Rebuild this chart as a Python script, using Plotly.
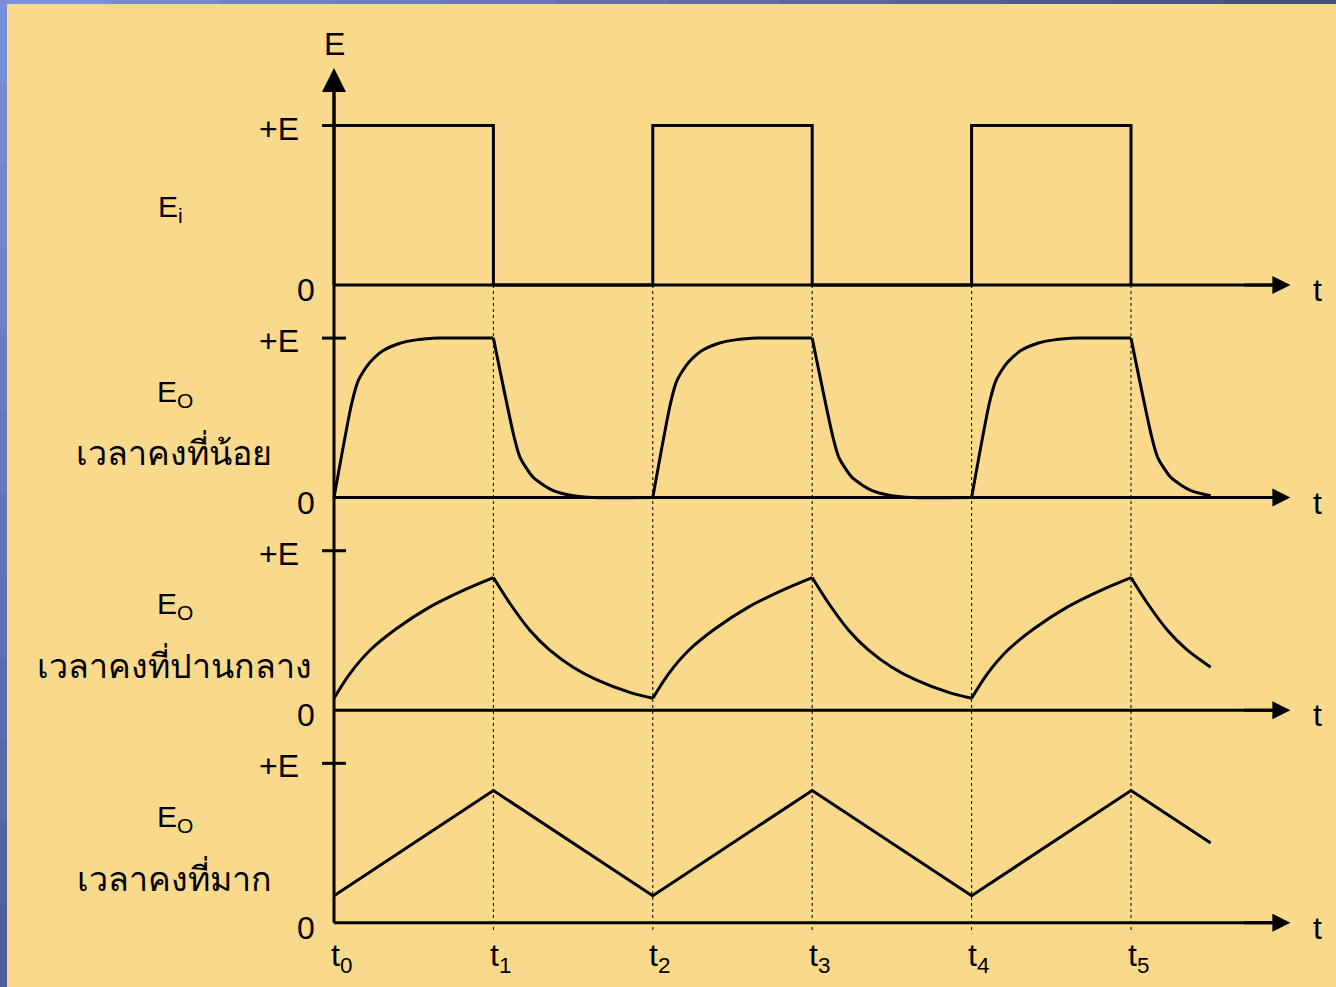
import plotly.graph_objects as go

# ---------------- data ----------------
# time marks t0..t5 (one unit = one half period)
T_MARKS = [0, 1, 2, 3, 4, 5]
T_LABELS = ["t<sub>0</sub>", "t<sub>1</sub>", "t<sub>2</sub>", "t<sub>3</sub>", "t<sub>4</sub>", "t<sub>5</sub>"]
T_END = 5.5          # where the output curves stop
T_AXIS_END = 6.0     # tip of the time-axis arrows
PERIOD = 2

# Panel 1: input square wave Ei (in units of E)
EI_T = [0, 0, 1, 1, 2, 2, 3, 3, 4, 4, 5, 5]
EI_V = [0, 1, 1, 0, 0, 1, 1, 0, 0, 1, 1, 0]

# Panel 2: small time constant (one cycle, relative time)
SMALL_RISE_T = [0.0, 0.111, 0.152, 0.19, 0.226, 0.309, 0.414, 0.518, 0.665, 1.0]
SMALL_RISE_V = [0.0, 0.59, 0.733, 0.80, 0.849, 0.922, 0.968, 0.989, 1.0, 1.0]
SMALL_FALL_T = [1.0, 1.13, 1.167, 1.25, 1.376, 1.5, 1.625, 2.0]
SMALL_FALL_V = [1.0, 0.38, 0.253, 0.127, 0.044, 0.012, 0.0, 0.0]

# Panel 3: medium time constant (one cycle, relative time)
MED_RISE_T = [0.0, 0.10, 0.226, 0.393, 0.602, 0.811, 1.0]
MED_RISE_V = [0.075, 0.23, 0.376, 0.512, 0.648, 0.752, 0.832]
MED_FALL_T = [1.0, 1.104, 1.23, 1.35, 1.5, 1.65, 1.86, 2.0]
MED_FALL_V = [0.832, 0.669, 0.50, 0.38, 0.27, 0.19, 0.11, 0.075]

# Panel 4: large time constant (triangle)
LARGE_T = [0, 1, 2, 3, 4, 5, 5.5]
LARGE_V = [0.17, 0.83, 0.17, 0.83, 0.17, 0.83, 0.50]

PANEL_TITLES = ["E<sub>i</sub>", "E<sub>O</sub>", "E<sub>O</sub>", "E<sub>O</sub>"]
PANEL_SUBTITLES = ["", "เวลาคงที่น้อย", "เวลาคงที่ปานกลาง", "เวลาคงที่มาก"]
LEVEL_LABELS = ["+E", "0"]
AXIS_LABEL_Y = "E"
AXIS_LABEL_T = "t"

# ---------------- layout constants ----------------
W, H = 1336, 987
PX_T = 159.4           # pixels per time unit
PX_E = 159.5           # pixels per E
T0_PX = 334
BASE0_PX = 285
PANEL_GAP = 1.333      # vertical distance between panel baselines (E units)
BASES = [-k * PANEL_GAP for k in range(4)]

BG = "#F9D98C"
FONT = "Liberation Sans, Arial, Noto Sans, sans-serif"
LW = 3


def px_t(p):
    return (p - T0_PX) / PX_T


def tile(rise_t, rise_v, fall_t, fall_v):
    segs = []
    for k in range(3):
        off = k * PERIOD
        for ts, vs in ((rise_t, rise_v), (fall_t, fall_v)):
            tt, vv = [], []
            for t, v in zip(ts, vs):
                if t + off <= T_END + 1e-9:
                    tt.append(t + off)
                    vv.append(v)
            if len(tt) > 1:
                segs.append((tt, vv))
    return segs


fig = go.Figure()


def line(x, y, width=LW, dash=None, shape="linear", smoothing=None):
    ln = dict(color="black", width=width, shape=shape)
    if dash:
        ln["dash"] = dash
    if smoothing is not None:
        ln["smoothing"] = smoothing
    fig.add_trace(go.Scatter(x=x, y=y, mode="lines", line=ln,
                             hoverinfo="skip", showlegend=False))


# dashed guide lines at t1..t5
for t in T_MARKS[1:]:
    line([t, t], [BASES[0], BASES[3] - 0.065], width=1, dash="3px,3px")

# axes lines
line([0, 0], [BASES[3], 1.36 - 0.07])
for b in BASES:
    line([0, T_AXIS_END - 0.06], [b, b])
    line([-0.075, 0.075], [b + 1, b + 1])

# panel 1
line(EI_T, [v + BASES[0] for v in EI_V])

# panel 2
for tt, vv in tile(SMALL_RISE_T, SMALL_RISE_V, SMALL_FALL_T, SMALL_FALL_V):
    line(tt, [v + BASES[1] for v in vv], shape="spline", smoothing=0.7)

# panel 3
for tt, vv in tile(MED_RISE_T, MED_RISE_V, MED_FALL_T, MED_FALL_V):
    line(tt, [v + BASES[2] for v in vv], shape="spline", smoothing=0.9)

# panel 4
line(LARGE_T, [v + BASES[3] for v in LARGE_V])

ann = []
# arrow heads
for b in BASES:
    ann.append(dict(x=T_AXIS_END, y=b, ax=T_AXIS_END - 0.3, ay=b, xref="x", yref="y",
                    axref="x", ayref="y", text="", showarrow=True, arrowhead=2,
                    arrowsize=1.2, arrowwidth=LW, arrowcolor="black", standoff=0))
ann.append(dict(x=0, y=1.36, ax=0, ay=1.0, xref="x", yref="y", axref="x", ayref="y",
                text="", showarrow=True, arrowhead=2, arrowsize=1.6, arrowwidth=LW,
                arrowcolor="black", standoff=0))


def text(x, y, s, size=32, xanchor="center", yshift=0, xshift=0):
    ann.append(dict(x=x, y=y, text=s, showarrow=False, xref="x", yref="y",
                    xanchor=xanchor, yanchor="middle", yshift=yshift, xshift=xshift,
                    font=dict(family=FONT, size=size, color="black")))


text(0, 1.36, AXIS_LABEL_Y, yshift=24)
for k, b in enumerate(BASES):
    text(px_t(301), b + 1, LEVEL_LABELS[0], xanchor="right", yshift=-3)
    text(px_t(317), b, LEVEL_LABELS[1], xanchor="right", yshift=-5)
    text(px_t(1311), b, AXIS_LABEL_T, xanchor="left", yshift=-5)

text(px_t(170), BASES[0] + 0.48, PANEL_TITLES[0], size=30)
for k in range(1, 4):
    text(px_t(175), BASES[k] + 0.655, PANEL_TITLES[k], size=30)
    text(px_t(174), BASES[k] + 0.29, PANEL_SUBTITLES[k], size=34)

for t, lab in zip(T_MARKS, T_LABELS):
    text(t, BASES[3], lab, yshift=-35, xshift=7)

# decorative blue frame (top and left edges)
shapes = []
n = 12
for i in range(n):
    f = i / (n - 1)
    c_top = "rgb(%d,%d,%d)" % (122 - 54 * f, 143 - 63 * f, 218 - 90 * f)
    shapes.append(dict(type="rect", xref="paper", yref="paper", x0=i / n, x1=(i + 1) / n + 0.001,
                       y0=1 - 4 / H, y1=1, fillcolor=c_top, line=dict(width=0), layer="above"))
    c_left = "rgb(%d,%d,%d)" % (122 - 40 * f, 143 - 50 * f, 218 - 58 * f)
    shapes.append(dict(type="rect", xref="paper", yref="paper", x0=0, x1=7 / W,
                       y0=1 - (i + 1) / n - 0.001, y1=1 - i / n, fillcolor=c_left,
                       line=dict(width=0), layer="above"))

fig.update_layout(
    width=W, height=H,
    margin=dict(l=0, r=0, t=0, b=0),
    paper_bgcolor=BG, plot_bgcolor=BG,
    xaxis=dict(range=[px_t(0), px_t(W)], visible=False, fixedrange=True),
    yaxis=dict(range=[(BASE0_PX - H) / PX_E, BASE0_PX / PX_E], visible=False, fixedrange=True),
    annotations=ann,
    shapes=shapes,
    showlegend=False,
)

fig.write_html("out.html", config={"displayModeBar": False},
               post_script="document.body.style.margin='0';document.body.style.overflow='hidden';")
